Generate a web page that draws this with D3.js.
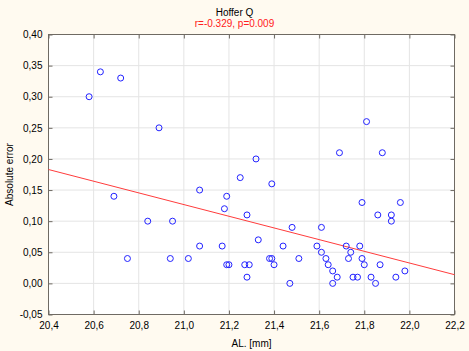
<!DOCTYPE html>
<html>
<head>
<meta charset="utf-8">
<script src="https://cdn.jsdelivr.net/npm/d3@7"></script>
<style>
  body { margin: 0; background: #fffaf0; }
  svg { display: block; font-family: "Liberation Sans", Arial, sans-serif; }
</style>
</head>
<body>
<svg id="drawing_region"></svg>
<script>
// AL. [mm] vs absolute error
const alValues = [
  20.58, 20.63, 20.72, 20.89, 21.32, 21.81, 21.69, 21.88,
  20.69, 20.84, 20.95, 20.75, 20.94, 21.02,
  21.25, 21.39, 21.07, 21.19, 21.18, 21.28, 21.48, 21.61, 21.33,
  21.07, 21.17, 21.44, 21.59, 21.61, 21.38, 21.39, 21.51, 21.63,
  21.64, 21.19, 21.20, 21.27, 21.29, 21.40, 21.28, 21.47,
  21.79, 21.96, 21.86, 21.92, 21.92, 21.72, 21.78, 21.74, 21.73, 21.79,
  21.80, 21.87, 21.66, 21.98, 21.68, 21.75, 21.77, 21.83, 21.94, 21.66, 21.85
];
const errValues = [
  0.30, 0.34, 0.33, 0.25, 0.20, 0.26, 0.21, 0.21,
  0.14, 0.10, 0.10, 0.04, 0.04, 0.04,
  0.17, 0.16, 0.15, 0.14, 0.12, 0.11, 0.09, 0.09, 0.07,
  0.06, 0.06, 0.06, 0.06, 0.05, 0.04, 0.04, 0.04, 0.04,
  0.03, 0.03, 0.03, 0.03, 0.03, 0.03, 0.01, 0.00,
  0.13, 0.13, 0.11, 0.11, 0.10, 0.06, 0.06, 0.05, 0.04, 0.04,
  0.03, 0.03, 0.02, 0.02, 0.01, 0.01, 0.01, 0.01, 0.01, 0.00, 0.00
];
// regression line end points
const fitX = [20.4, 22.2];
const fitY = [0.183, 0.014];

const xTicks = [20.4, 20.6, 20.8, 21.0, 21.2, 21.4, 21.6, 21.8, 22.0, 22.2];
const yTicks = [-0.05, 0, 0.05, 0.10, 0.15, 0.20, 0.25, 0.30, 0.35, 0.40];

const titleText = "Hoffer Q";
const subtitleText = "r=-0.329, p=0.009";
const xLabel = "AL. [mm]";
const yLabel = "Absolute error";

const config = {
  width: 469, height: 351,
  margin: {top: 34.5, right: 14.5, bottom: 36.5, left: 48.5}
};

const svg = d3.select('#drawing_region')
  .attr('width', config.width)
  .attr('height', config.height);

const inner_width = config.width - config.margin.left - config.margin.right;
const inner_height = config.height - config.margin.top - config.margin.bottom;

const xscale = d3.scaleLinear().domain([20.4, 22.2]).range([0, inner_width]);
const yscale = d3.scaleLinear().domain([-0.05, 0.40]).range([inner_height, 0]);

const commaFmt = f => v => d3.format(f)(v).replace('.', ',').replace('−', '-');

const chart = svg.append('g')
  .attr('transform', `translate(${config.margin.left}, ${config.margin.top})`);

chart.append('rect')
  .attr('width', inner_width).attr('height', inner_height)
  .attr('fill', '#ffffff');

// grid
chart.append('g').selectAll('line').data(xTicks).join('line')
  .attr('x1', d => xscale(d)).attr('x2', d => xscale(d))
  .attr('y1', 0).attr('y2', inner_height)
  .attr('stroke', '#e4e4e4');
chart.append('g').selectAll('line').data(yTicks).join('line')
  .attr('y1', d => yscale(d)).attr('y2', d => yscale(d))
  .attr('x1', 0).attr('x2', inner_width)
  .attr('stroke', '#e4e4e4');

// axes with inward ticks
const xaxis = d3.axisBottom(xscale).tickValues(xTicks).tickSize(-4).tickPadding(7)
  .tickFormat(commaFmt('.1f'));
const yaxis = d3.axisLeft(yscale).tickValues(yTicks).tickSize(-4).tickPadding(6)
  .tickFormat(commaFmt('.2f'));

const xg = chart.append('g').attr('transform', `translate(0, ${inner_height})`).call(xaxis);
const yg = chart.append('g').call(yaxis);
chart.append('g').attr('transform', `translate(0, 0)`)
  .call(d3.axisTop(xscale).tickValues(xTicks).tickSize(-4).tickFormat(''));
chart.append('g').attr('transform', `translate(${inner_width}, 0)`)
  .call(d3.axisRight(yscale).tickValues(yTicks).tickSize(-4).tickFormat(''));

chart.selectAll('.domain').remove();
chart.selectAll('.tick line').attr('stroke', '#6f6a63');
chart.selectAll('.tick text').attr('font-size', 10).attr('fill', '#000')
  .attr('font-family', '"Liberation Sans", Arial, sans-serif');

chart.append('rect')
  .attr('width', inner_width).attr('height', inner_height)
  .attr('fill', 'none').attr('stroke', '#6f6a63');

// regression line
chart.append('line')
  .attr('x1', xscale(fitX[0])).attr('y1', yscale(fitY[0]))
  .attr('x2', xscale(fitX[1])).attr('y2', yscale(fitY[1]))
  .attr('stroke', '#ff3c3c').attr('stroke-width', 1);

// points
chart.append('g').selectAll('circle').data(alValues).join('circle')
  .attr('cx', (d, i) => xscale(d))
  .attr('cy', (d, i) => yscale(errValues[i]))
  .attr('r', 3)
  .attr('fill', 'none')
  .attr('stroke', '#2222ff')
  .attr('stroke-width', 1);

// titles
svg.append('text').attr('x', 234.5).attr('y', 15.5)
  .attr('text-anchor', 'middle').attr('font-size', 10).attr('fill', '#000')
  .text(titleText);
svg.append('text').attr('x', 234.5).attr('y', 27)
  .attr('text-anchor', 'middle').attr('font-size', 10).attr('fill', '#ff2020')
  .text(subtitleText);

svg.append('text')
  .attr('x', config.margin.left + inner_width / 2).attr('y', 346.5)
  .attr('text-anchor', 'middle').attr('font-size', 10)
  .text(xLabel);
svg.append('text')
  .attr('transform', `translate(13, ${config.margin.top + inner_height / 2}) rotate(-90)`)
  .attr('text-anchor', 'middle').attr('font-size', 10)
  .text(yLabel);
</script>
</body>
</html>
